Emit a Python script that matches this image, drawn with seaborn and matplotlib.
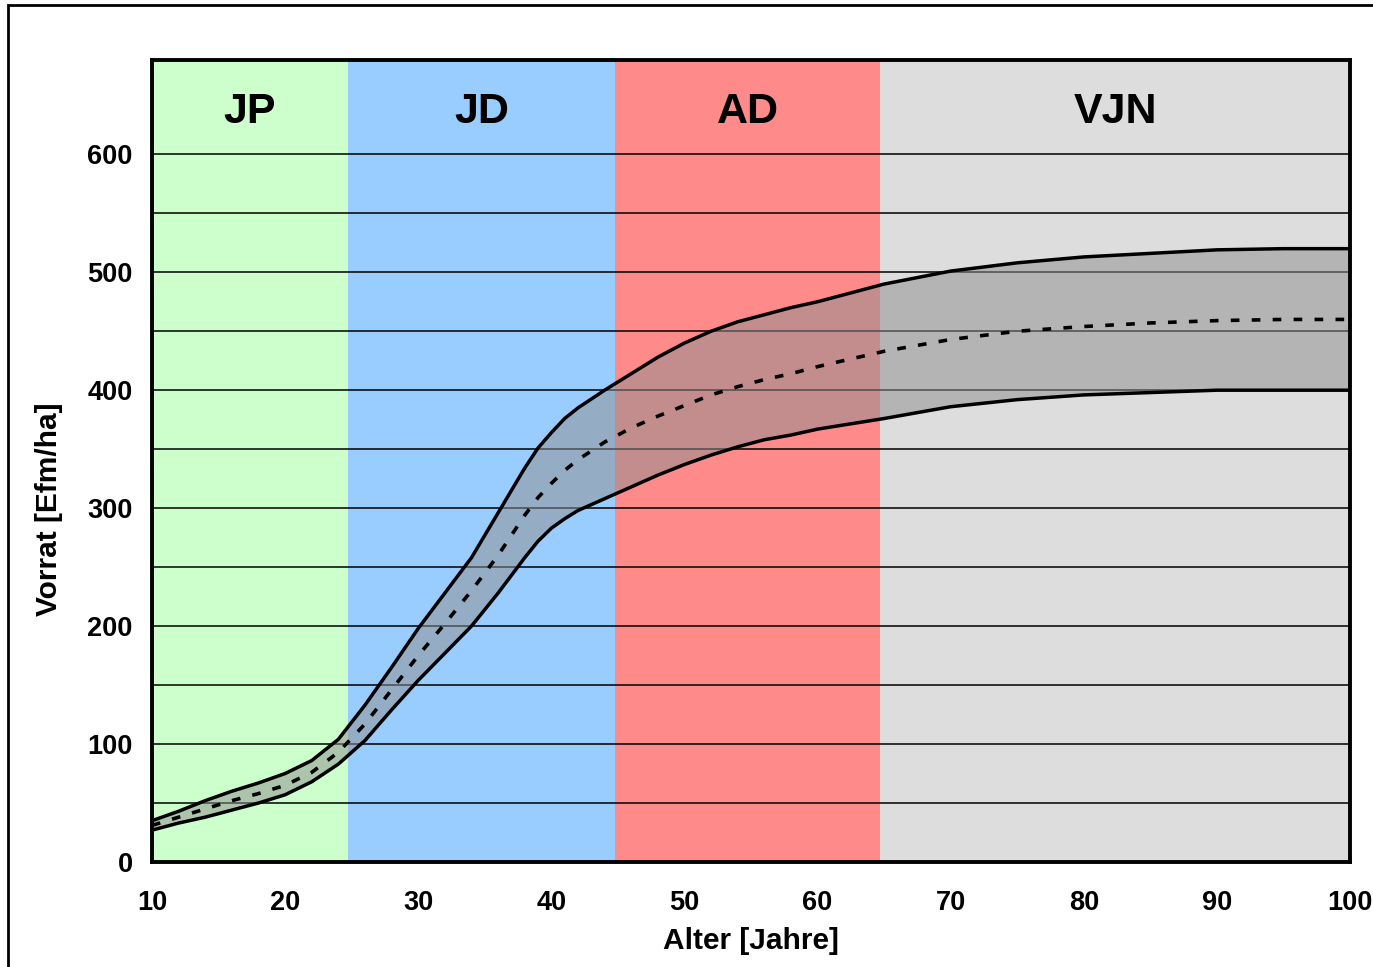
import numpy as np
import pandas as pd
import matplotlib
matplotlib.use("Agg")
import matplotlib.pyplot as plt
import seaborn as sns
from matplotlib.patches import Rectangle

sns.set_theme(style="white")
plt.rcParams['font.family'] = ['Liberation Sans', 'DejaVu Sans']
plt.rcParams['font.weight'] = 'bold'
plt.rcParams['text.color'] = 'black'
plt.rcParams['xtick.color'] = 'black'
plt.rcParams['ytick.color'] = 'black'
plt.rcParams['axes.labelcolor'] = 'black'

# ==========================================
# DATA
# ==========================================
alter = [10, 12, 14, 16, 18, 20, 22, 24, 26, 28, 30, 32, 34, 36, 37, 38, 39, 40, 41, 42, 44,
         46, 48, 50, 52, 54, 56, 58, 60, 65, 70, 75, 80, 85, 90, 95, 100]
vorrat_oben = [35, 43, 52, 60, 67, 75, 86, 104, 133, 165, 198, 228, 258, 296, 315, 334, 351,
               364, 376, 385, 400, 414, 428, 440, 450, 458, 464, 470, 475, 490, 501, 508,
               513, 516, 519, 520, 520]
vorrat_mitte = [31, 38, 45, 52, 58, 65, 76, 93, 117, 146, 175, 202, 230, 260, 277, 294, 309,
                321, 332, 341, 356, 368, 378, 387, 396, 403, 409, 414, 420, 433, 443, 450,
                454, 457, 459, 460, 460]
vorrat_unten = [27, 33, 38, 44, 50, 57, 68, 83, 103, 129, 154, 177, 200, 228, 243, 258, 272,
                283, 291, 298, 308, 318, 328, 337, 345, 352, 358, 362, 367, 376, 386, 392,
                396, 398, 400, 400, 400]

# Entwicklungsphasen
phasen = ['JP', 'JD', 'AD', 'VJN']
phasen_start = [10, 24.7, 44.8, 64.7]
phasen_ende = [24.7, 44.8, 64.7, 100]
phasen_farben = ['#CCFFCC', '#99CCFF', '#FF8A8A', '#DDDDDD']

df = pd.DataFrame({'Alter': alter, 'oben': vorrat_oben,
                   'mitte': vorrat_mitte, 'unten': vorrat_unten})

# ==========================================
# PLOT
# ==========================================
fig = plt.figure(figsize=(13.73, 9.67), dpi=100)
ax = fig.add_axes([0.1107, 0.1086, 0.8726, 0.8294])

# background bands + labels
for name, x0, x1, col in zip(phasen, phasen_start, phasen_ende, phasen_farben):
    ax.axvspan(x0, x1, color=col, lw=0, zorder=0)
    ax.text((x0 + x1) / 2, 636, name, ha='center', va='center',
            fontsize=31, fontweight='bold', color='black', zorder=5)

# gridlines (every 50, the 600 line is grey)
ax.set_yticks(range(0, 601, 100))
ax.set_yticks(range(50, 551, 100), minor=True)
ax.yaxis.grid(True, which='both', color='black', lw=1.1, zorder=1)
ax.set_axisbelow(True)
for t in ax.yaxis.get_major_ticks():
    if t.get_loc() == 600:
        t.gridline.set_color('#808080')

# range band and lines
ax.fill_between(df['Alter'], df['unten'], df['oben'], color='#909090', alpha=0.53,
                lw=0, zorder=2)
sns.lineplot(data=df, x='Alter', y='oben', color='black', lw=2.5, ax=ax, zorder=3)
sns.lineplot(data=df, x='Alter', y='unten', color='black', lw=2.5, ax=ax, zorder=3)
sns.lineplot(data=df, x='Alter', y='mitte', color='black', lw=2.6, ax=ax, zorder=3,
             linestyle=(0, (2.4, 3.4)))

ax.set_xlim(10, 100)
ax.set_ylim(0, 680)
ax.set_xticks(range(10, 101, 10))

ax.set_xlabel('Alter [Jahre]', fontsize=21.5, fontweight='bold', labelpad=8)
ax.set_ylabel('Vorrat [Efm/ha]', fontsize=21.5, fontweight='bold')
ax.yaxis.set_label_coords(-0.074, 0.44)

ax.tick_params(axis='both', which='major', direction='out', length=7, width=2.5,
               labelsize=19.5)
ax.tick_params(axis='x', pad=13)
ax.tick_params(axis='y', pad=7)
ax.tick_params(axis='y', which='minor', length=0)
for lab in ax.get_xticklabels() + ax.get_yticklabels():
    lab.set_fontweight('bold')

for s in ax.spines.values():
    s.set_visible(True)
    s.set_color('black')
    s.set_linewidth(2.8)
    s.set_zorder(6)

# outer frame around the chart
fig.patches.append(Rectangle((8 / 1373, -0.05), 1.1, 1.05 - 5 / 967,
                             transform=fig.transFigure, fill=False,
                             edgecolor='black', lw=2))

fig.savefig('out.png', dpi=100)
